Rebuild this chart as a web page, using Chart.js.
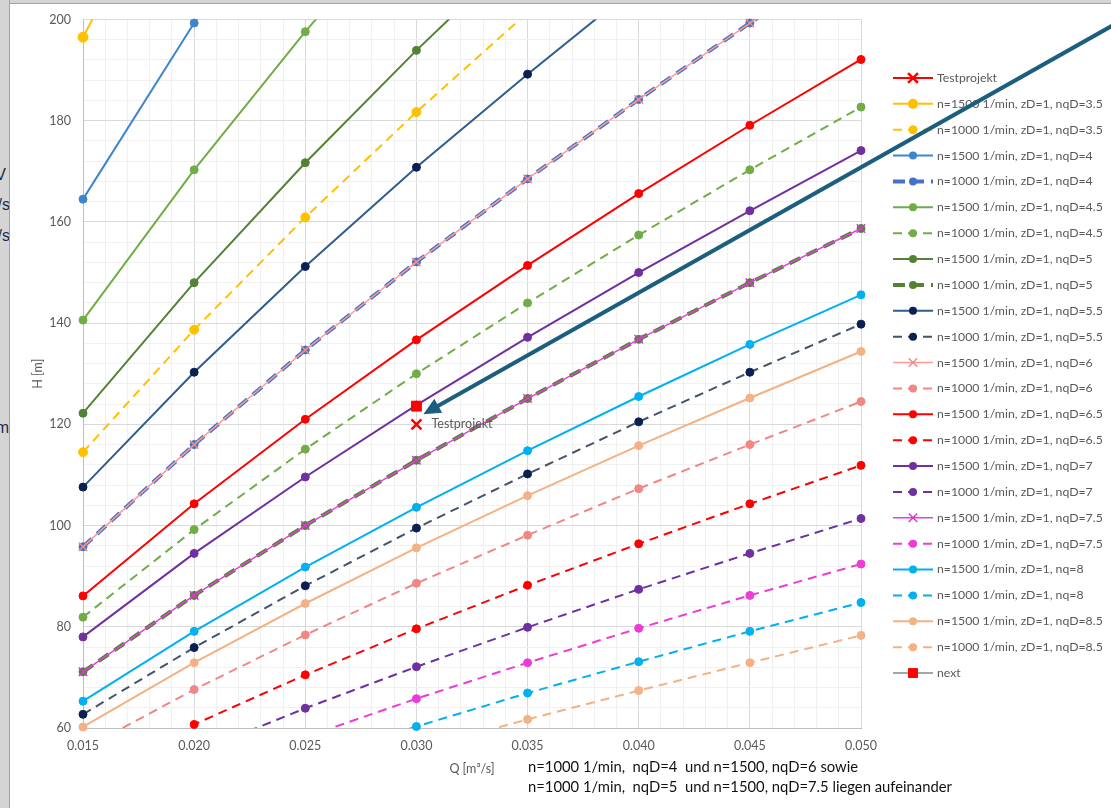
<!DOCTYPE html>
<html>
<head>
<meta charset="utf-8">
<script src="https://cdn.jsdelivr.net/npm/chart.js@4.4.1/dist/chart.umd.min.js"></script>
<style>
  html, body { margin: 0; padding: 0; background: #ffffff; width: 1111px; height: 808px; overflow: hidden; }
  #c { position: absolute; left: 0; top: 0; }
  #strip { position: absolute; left: 0; top: 0; width: 9px; height: 808px; background: #d4d4d4;
           border-right: 1px solid #a3a3a3; overflow: hidden; z-index: 2; }
  #topstrip { position: absolute; left: 0; top: 0; width: 1111px; height: 3px; background: #d4d4d4;
              border-bottom: 1px solid #a3a3a3; z-index: 2; }
  #strip span { position: absolute; white-space: nowrap; font-family: "Liberation Sans", sans-serif;
                font-size: 16px; color: #1f2a48; line-height: 16px; }
</style>
</head>
<body>
<div id="topstrip"></div>
<div id="strip">
  <span style="top:167px; right:3px;">kV</span>
  <span style="top:197px; right:-1px;">m³/s</span>
  <span style="top:228px; right:-1px;">m³/s</span>
  <span style="top:420px; right:0px;">m</span>
</div>
<canvas id="c" width="1111" height="808"></canvas>
<script>
// Flow rates Q [m³/s] at which the characteristic curves are evaluated
const flowQ = [0.015, 0.020, 0.025, 0.030, 0.035, 0.040, 0.045, 0.050];

// Axis ranges and tick spacing
const flowRange = [0.015, 0.050];
const headRange = [60, 200];
const flowMinorStep = 0.001;
const flowMajorStep = 0.005;
const headMinorStep = 4;
const headMajorStep = 20;

// Head H [m] per curve (n in 1/min, zD = 1, nqD)
const h1500_nq3_5 = [196.5, 238.1];
const h1000_nq3_5 = [114.5, 138.7, 160.9, 181.7, 201.4];
const h1500_nq4   = [164.5, 199.3, 231.2];
const h1000_nq4   = [95.8, 116.0, 134.7, 152.1, 168.5, 184.2, 199.3, 213.8];
const h1500_nq4_5 = [140.6, 170.3, 197.6, 223.1];
const h1000_nq4_5 = [81.9, 99.2, 115.1, 130.0, 144.0, 157.4, 170.3, 182.7];
const h1500_nq5   = [122.2, 148.0, 171.7, 193.9, 214.9];
const h1000_nq5   = [71.1, 86.2, 100.0, 112.9, 125.1, 136.8, 148.0, 158.7];
const h1500_nq5_5 = [107.6, 130.3, 151.2, 170.8, 189.2, 206.9];
const h1000_nq5_5 = [62.7, 75.9, 88.1, 99.5, 110.2, 120.5, 130.3, 139.8];
const h1500_nq6   = [95.8, 116.0, 134.7, 152.1, 168.5, 184.2, 199.3, 213.8];
const h1000_nq6   = [55.8, 67.6, 78.4, 88.6, 98.1, 107.3, 116.0, 124.5];
const h1500_nq6_5 = [86.1, 104.3, 121.0, 136.7, 151.4, 165.6, 179.1, 192.1];
const h1000_nq6_5 = [50.1, 60.7, 70.5, 79.6, 88.2, 96.4, 104.3, 111.9];
const h1500_nq7   = [78.0, 94.5, 109.6, 123.8, 137.2, 150.0, 162.2, 174.1];
const h1000_nq7   = [45.4, 55.0, 63.9, 72.1, 79.9, 87.4, 94.5, 101.4];
const h1500_nq7_5 = [71.1, 86.2, 100.0, 112.9, 125.1, 136.8, 148.0, 158.7];
const h1000_nq7_5 = [41.4, 50.2, 58.2, 65.8, 72.9, 79.7, 86.2, 92.4];
const h1500_nq8   = [65.3, 79.1, 91.8, 103.6, 114.8, 125.5, 135.8, 145.6];
const h1000_nq8   = [38.0, 46.0, 53.4, 60.3, 66.9, 73.1, 79.1, 84.8];
const h1500_nq8_5 = [60.2, 72.9, 84.6, 95.6, 105.9, 115.8, 125.2, 134.4];
const h1000_nq8_5 = [35.1, 42.5, 49.3, 55.7, 61.7, 67.4, 72.9, 78.3];

// Operating points
const testQ = [0.030];
const testH = [120.0];
const nextQ = [0.030];
const nextH = [123.6];

// Text
const testLabel = 'Testprojekt';
const noteLines = [
  'n=1000 1/min,  nqD=4  und n=1500, nqD=6 sowie',
  'n=1000 1/min,  nqD=5  und n=1500, nqD=7.5 liegen aufeinander'
];

// Styles per curve (legend order)
const solid = [];
const dash = [9, 6];
const thickDash = [12, 7];
const series = [
  { label: 'Testprojekt', q: testQ, h: testH, color: '#FF0000', w: 2, dash: solid, m: 'crossRot', mc: '#FF0000', r: 7, mw: 2.5, line: false },
  { label: 'n=1500 1/min, zD=1, nqD=3.5', q: flowQ, h: h1500_nq3_5, color: '#FFC000', w: 2, dash: solid, m: 'circle', mc: '#FFC000', r: 5, mw: 1 },
  { label: 'n=1000 1/min, zD=1, nqD=3.5', q: flowQ, h: h1000_nq3_5, color: '#FFC000', w: 2, dash: dash, m: 'circle', mc: '#FFC000', r: 4.5, mw: 1 },
  { label: 'n=1500 1/min, zD=1, nqD=4', q: flowQ, h: h1500_nq4, color: '#3E85CC', w: 2, dash: solid, m: 'circle', mc: '#3E85CC', r: 4, mw: 1 },
  { label: 'n=1000 1/min, zD=1, nqD=4', q: flowQ, h: h1000_nq4, color: '#4472C4', w: 4, dash: thickDash, m: 'circle', mc: '#4472C4', r: 4, mw: 1 },
  { label: 'n=1500 1/min, zD=1, nqD=4.5', q: flowQ, h: h1500_nq4_5, color: '#70AD47', w: 2, dash: solid, m: 'circle', mc: '#70AD47', r: 4, mw: 1 },
  { label: 'n=1000 1/min, zD=1, nqD=4.5', q: flowQ, h: h1000_nq4_5, color: '#70AD47', w: 2, dash: dash, m: 'circle', mc: '#70AD47', r: 4, mw: 1 },
  { label: 'n=1500 1/min, zD=1, nqD=5', q: flowQ, h: h1500_nq5, color: '#548235', w: 2, dash: solid, m: 'circle', mc: '#548235', r: 4, mw: 1 },
  { label: 'n=1000 1/min, zD=1, nqD=5', q: flowQ, h: h1000_nq5, color: '#548235', w: 4, dash: thickDash, m: 'circle', mc: '#548235', r: 4, mw: 1 },
  { label: 'n=1500 1/min, zD=1, nqD=5.5', q: flowQ, h: h1500_nq5_5, color: '#2F5D8E', w: 2, dash: solid, m: 'circle', mc: '#0A1F52', r: 4, mw: 1 },
  { label: 'n=1000 1/min, zD=1, nqD=5.5', q: flowQ, h: h1000_nq5_5, color: '#44546A', w: 2, dash: dash, m: 'circle', mc: '#0A1F52', r: 4, mw: 1 },
  { label: 'n=1500 1/min, zD=1, nqD=6', q: flowQ, h: h1500_nq6, color: '#FF9A9A', w: 1.5, dash: solid, m: 'crossRot', mc: '#F08A8A', r: 6, mw: 1.5 },
  { label: 'n=1000 1/min, zD=1, nqD=6', q: flowQ, h: h1000_nq6, color: '#F08784', w: 2, dash: dash, m: 'circle', mc: '#F08784', r: 4, mw: 1 },
  { label: 'n=1500 1/min, zD=1, nqD=6.5', q: flowQ, h: h1500_nq6_5, color: '#FF0000', w: 2, dash: solid, m: 'circle', mc: '#FF0000', r: 4, mw: 1 },
  { label: 'n=1000 1/min, zD=1, nqD=6.5', q: flowQ, h: h1000_nq6_5, color: '#FF0000', w: 2, dash: dash, m: 'circle', mc: '#FF0000', r: 4, mw: 1 },
  { label: 'n=1500 1/min, zD=1, nqD=7', q: flowQ, h: h1500_nq7, color: '#7030A0', w: 2, dash: solid, m: 'circle', mc: '#7030A0', r: 4, mw: 1 },
  { label: 'n=1000 1/min, zD=1, nqD=7', q: flowQ, h: h1000_nq7, color: '#7030A0', w: 2, dash: dash, m: 'circle', mc: '#7030A0', r: 4, mw: 1 },
  { label: 'n=1500 1/min, zD=1, nqD=7.5', q: flowQ, h: h1500_nq7_5, color: '#E040DB', w: 1.5, dash: solid, m: 'crossRot', mc: '#D23CCB', r: 6, mw: 1.5 },
  { label: 'n=1000 1/min, zD=1, nqD=7.5', q: flowQ, h: h1000_nq7_5, color: '#EE3BD8', w: 2, dash: dash, m: 'circle', mc: '#EE3BD8', r: 4, mw: 1 },
  { label: 'n=1500 1/min, zD=1, nq=8', q: flowQ, h: h1500_nq8, color: '#00B0F0', w: 2, dash: solid, m: 'circle', mc: '#00B0F0', r: 4, mw: 1 },
  { label: 'n=1000 1/min, zD=1, nq=8', q: flowQ, h: h1000_nq8, color: '#00B0F0', w: 2, dash: dash, m: 'circle', mc: '#00B0F0', r: 4, mw: 1 },
  { label: 'n=1500 1/min, zD=1, nqD=8.5', q: flowQ, h: h1500_nq8_5, color: '#F4B183', w: 2, dash: solid, m: 'circle', mc: '#F4B183', r: 4, mw: 1 },
  { label: 'n=1000 1/min, zD=1, nqD=8.5', q: flowQ, h: h1000_nq8_5, color: '#F4B183', w: 2, dash: dash, m: 'circle', mc: '#F4B183', r: 4, mw: 1 },
  { label: 'next', q: nextQ, h: nextH, color: '#A6A6A6', w: 2, dash: solid, m: 'rect', mc: '#FF0000', r: 7, mw: 1, line: false }
];

const FONT = 'Lato, "Liberation Sans", sans-serif';
const GREY_TEXT = '#595959';
const AXIS_FONT = { family: FONT, size: 12.5 };

// Each curve becomes a clipped line dataset plus an unclipped marker dataset,
// so markers on the plot edge stay whole while lines are cut at the frame.
const datasets = [];
const N = series.length;
series.forEach((s, i) => {
  const pts = s.h.map((v, k) => ({ x: s.q[k], y: v }));
  datasets.push({
    label: s.label,
    data: pts,
    showLine: s.line !== false,
    borderColor: s.color,
    borderWidth: s.w,
    borderDash: s.dash,
    borderCapStyle: 'butt',
    pointRadius: 0,
    pointHoverRadius: 0,
    tension: 0,
    fill: false,
    clip: { left: 6, right: 6, top: 0, bottom: 0 },
    order: 2 * (N - i) + 1
  });
  datasets.push({
    label: s.label + ' ',
    data: pts.filter(p => p.y >= headRange[0] && p.y <= headRange[1]),
    showLine: false,
    pointStyle: s.m,
    pointRadius: s.r,
    pointHoverRadius: s.r,
    pointBackgroundColor: s.mc,
    pointBorderColor: s.mc,
    pointBorderWidth: s.mw,
    clip: false,
    order: 2 * (N - i)
  });
});

function isMajorQ(v) { return Math.round(v / flowMinorStep) % Math.round(flowMajorStep / flowMinorStep) === 0; }
function isMajorH(v) { return Math.round(v) % headMajorStep === 0; }

function drawMarker(ctx, style, x, y, r, color, lw) {
  ctx.save();
  ctx.fillStyle = color;
  ctx.strokeStyle = color;
  ctx.lineWidth = lw;
  ctx.setLineDash([]);
  ctx.beginPath();
  if (style === 'circle') {
    ctx.arc(x, y, r, 0, Math.PI * 2);
    ctx.fill();
  } else if (style === 'crossRot') {
    const d = r * Math.SQRT1_2;
    ctx.moveTo(x - d, y - d); ctx.lineTo(x + d, y + d);
    ctx.moveTo(x + d, y - d); ctx.lineTo(x - d, y + d);
    ctx.stroke();
  } else if (style === 'rect') {
    const d = r * Math.SQRT1_2;
    ctx.rect(x - d, y - d, 2 * d, 2 * d);
    ctx.fill();
  }
  ctx.restore();
}

const overlay = {
  id: 'overlay',
  afterDraw(chart) {
    const ctx = chart.ctx;
    const xs = chart.scales.x, ys = chart.scales.y;

    // data label beside the test point
    ctx.save();
    ctx.font = '12.5px ' + FONT;
    ctx.fillStyle = GREY_TEXT;
    ctx.textBaseline = 'middle';
    ctx.textAlign = 'left';
    ctx.fillText(testLabel, xs.getPixelForValue(testQ[0]) + 15, ys.getPixelForValue(testH[0]));
    ctx.restore();

    // legend: line sample with marker, then text
    ctx.save();
    ctx.font = '12px ' + FONT;
    const refW = ctx.measureText('n=1500 1/min, zD=1, nqD=3.5').width;
    const legSize = 12 * 166 / refW;
    ctx.font = legSize.toFixed(2) + 'px ' + FONT;
    const lx0 = 893, lx1 = 933, ly0 = 78, lstep = 25.87;
    series.forEach((s, i) => {
      const yy = ly0 + i * lstep;
      ctx.save();
      ctx.strokeStyle = s.color;
      ctx.lineWidth = s.w;
      ctx.setLineDash(s.dash);
      ctx.beginPath();
      ctx.moveTo(lx0, yy);
      ctx.lineTo(lx1, yy);
      ctx.stroke();
      ctx.restore();
      drawMarker(ctx, s.m, (lx0 + lx1) / 2, yy, s.r, s.mc, s.mw);
      ctx.fillStyle = GREY_TEXT;
      ctx.textBaseline = 'middle';
      ctx.textAlign = 'left';
      ctx.fillText(s.label, 937, yy);
    });
    ctx.restore();

    // note below the axis
    ctx.save();
    ctx.font = '14px ' + FONT;
    const nW = ctx.measureText(noteLines[1]).width;
    const nSize = 14 * 424 / nW;
    ctx.font = nSize.toFixed(2) + 'px ' + FONT;
    ctx.fillStyle = '#111111';
    ctx.textBaseline = 'middle';
    ctx.textAlign = 'left';
    ctx.fillText(noteLines[0], 528, 767);
    ctx.fillText(noteLines[1], 528, 787);
    ctx.restore();

    // pointer arrow towards the next operating point
    const tipX = xs.getPixelForValue(nextQ[0]) + 7;
    const tipY = ys.getPixelForValue(nextH[0]) + 8;
    const dx = 688, dy = -388;
    const len = Math.hypot(dx, dy);
    const ux = dx / len, uy = dy / len;
    const nx = -uy, ny = ux;
    const headL = 17, headW = 8;
    const bx = tipX + ux * headL, by = tipY + uy * headL;
    ctx.save();
    ctx.strokeStyle = '#1C5E7E';
    ctx.fillStyle = '#1C5E7E';
    ctx.lineWidth = 4;
    ctx.beginPath();
    ctx.moveTo(bx - ux * 1, by - uy * 1);
    ctx.lineTo(tipX + ux * 900, tipY + uy * 900);
    ctx.stroke();
    ctx.beginPath();
    ctx.moveTo(tipX, tipY);
    ctx.lineTo(bx + nx * headW, by + ny * headW);
    ctx.lineTo(bx - nx * headW, by - ny * headW);
    ctx.closePath();
    ctx.fill();
    ctx.restore();
  }
};

new Chart(document.getElementById('c'), {
  type: 'scatter',
  data: { datasets },
  options: {
    responsive: false,
    animation: false,
    events: [],
    layout: { padding: { left: 10, right: 250, top: 17, bottom: 20 } },
    plugins: { legend: { display: false }, tooltip: { enabled: false } },
    scales: {
      x: {
        type: 'linear',
        min: flowRange[0],
        max: flowRange[1],
        afterFit(scale) { scale.height = 60; },
        border: { color: '#BFBFBF', width: 1 },
        grid: {
          drawTicks: false,
          lineWidth: 1,
          color: c => (c.tick && isMajorQ(c.tick.value)) ? '#D9D9D9' : '#F0F0F0'
        },
        ticks: {
          stepSize: flowMinorStep,
          autoSkip: false,
          maxRotation: 0,
          padding: 10,
          color: GREY_TEXT,
          font: AXIS_FONT,
          callback: v => isMajorQ(v) ? Number(v).toFixed(3) : ''
        },
        title: {
          display: true,
          text: 'Q [m³/s]',
          color: GREY_TEXT,
          font: AXIS_FONT,
          padding: { top: 0, bottom: 12 }
        }
      },
      y: {
        min: headRange[0],
        max: headRange[1],
        afterFit(scale) { scale.width = 73; },
        border: { color: '#BFBFBF', width: 1 },
        grid: {
          drawTicks: false,
          lineWidth: 1,
          color: c => (c.tick && isMajorH(c.tick.value)) ? '#D9D9D9' : '#F0F0F0'
        },
        ticks: {
          stepSize: headMinorStep,
          autoSkip: false,
          padding: 12,
          color: GREY_TEXT,
          font: AXIS_FONT,
          callback: v => isMajorH(v) ? String(v) : ''
        },
        title: {
          display: true,
          text: 'H [m]',
          color: GREY_TEXT,
          font: AXIS_FONT,
          padding: { top: 20, bottom: 0 }
        }
      }
    }
  },
  plugins: [overlay]
});
</script>
</body>
</html>
